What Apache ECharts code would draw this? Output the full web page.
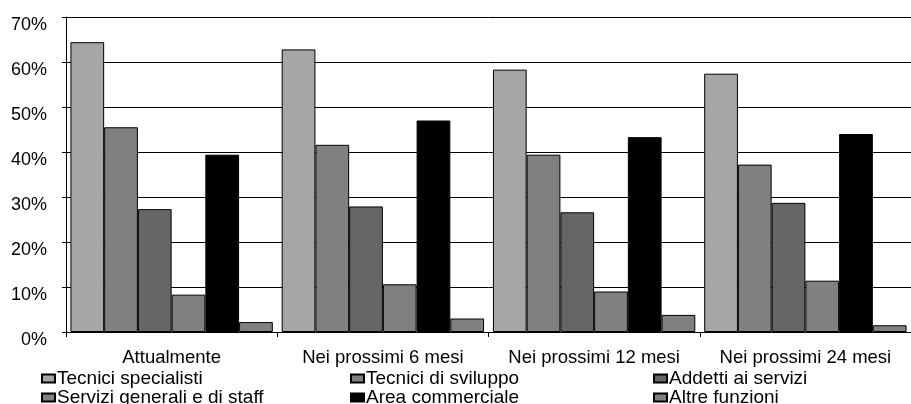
<!DOCTYPE html>
<html>
<head>
<meta charset="utf-8">
<script src="https://cdn.jsdelivr.net/npm/echarts@6/dist/echarts.min.js"></script>
<style>html,body{margin:0;padding:0;background:#fff}#c{width:911px;height:404px}</style>
</head>
<body>
<div id="c"></div>
<script>
var categories = ['Attualmente', 'Nei prossimi 6 mesi', 'Nei prossimi 12 mesi', 'Nei prossimi 24 mesi'];
var seriesNames = ['Tecnici specialisti', 'Tecnici di sviluppo', 'Addetti ai servizi', 'Servizi generali e di staff', 'Area commerciale', 'Altre funzioni'];
var tecniciSpecialisti = [64.4, 62.8, 58.3, 57.4];
var tecniciSviluppo = [45.5, 41.6, 39.4, 37.2];
var addettiServizi = [27.3, 27.9, 26.6, 28.7];
var serviziGenerali = [8.3, 10.6, 9.0, 11.4];
var areaCommerciale = [39.4, 47.0, 43.3, 44.0];
var altreFunzioni = [2.2, 3.0, 3.8, 1.5];
var yTicks = [0, 10, 20, 30, 40, 50, 60, 70];

var values = [tecniciSpecialisti, tecniciSviluppo, addettiServizi, serviziGenerali, areaCommerciale, altreFunzioni];
var colors = ['#a6a6a6', '#808080', '#666666', '#808080', '#000000', '#808080'];
var font = 'Liberation Sans, Arial, sans-serif';

var chart = echarts.init(document.getElementById('c'), null, {renderer: 'canvas'});
var series = seriesNames.map(function (n, i) {
  return {
    name: n, type: 'bar', data: values[i],
    barGap: '0%', barCategoryGap: '4.2%',
    itemStyle: {color: colors[i], borderColor: '#000', borderWidth: 1},
    emphasis: {disabled: true}, animation: false
  };
});
var colLeft = [41, 350, 653];
var rowTop = [369, 388];
var legends = seriesNames.map(function (n, i) {
  return {
    data: [n], left: colLeft[i % 3], top: rowTop[Math.floor(i / 3)],
    itemWidth: 13, itemHeight: 8, icon: 'rect', padding: 0,
    textStyle: {fontFamily: font, fontSize: 19, color: '#000', padding: [0, 0, 0, -3]},
    selectedMode: false
  };
});
chart.setOption({
  animation: false,
  grid: {left: 66, right: -7, top: 17, bottom: 72, containLabel: false},
  legend: legends,
  xAxis: {
    type: 'category', data: categories,
    axisLine: {lineStyle: {color: '#000', width: 1}},
    axisTick: {show: true, length: 5, lineStyle: {color: '#000'}},
    axisLabel: {fontFamily: font, fontSize: 18.5, color: '#000', margin: 16, interval: 0}
  },
  yAxis: {
    type: 'value', min: yTicks[0], max: yTicks[yTicks.length - 1], interval: 10,
    axisLine: {show: true, lineStyle: {color: '#000', width: 1}},
    axisTick: {show: true, length: 4, lineStyle: {color: '#000'}},
    splitLine: {lineStyle: {color: '#000', width: 1}},
    axisLabel: {fontFamily: font, fontSize: 18, color: '#000', margin: 19,
      formatter: '{value}%', verticalAlign: 'top', lineHeight: 16}
  },
  series: series
});
</script>
</body>
</html>
